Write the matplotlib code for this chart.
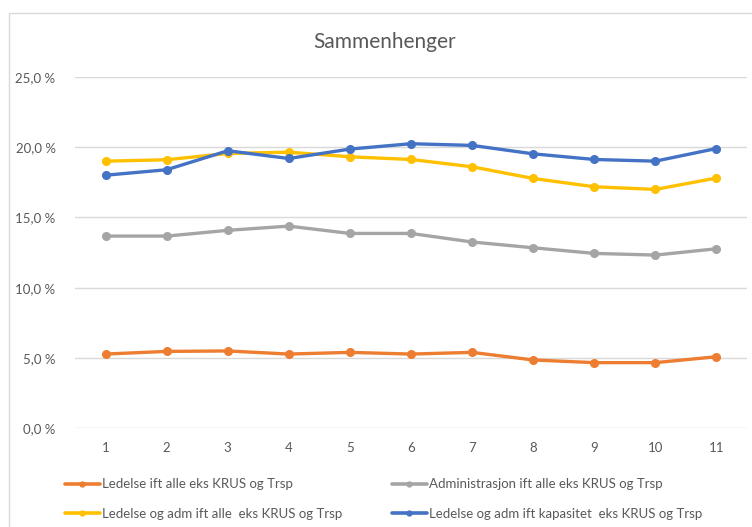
import matplotlib
matplotlib.use("Agg")
import matplotlib.pyplot as plt
from matplotlib.patches import Rectangle
from matplotlib.ticker import FuncFormatter

plt.rcParams['font.family'] = ['Lato', 'DejaVu Sans']

x = [1, 2, 3, 4, 5, 6, 7, 8, 9, 10, 11]
ledelse = [5.28, 5.47, 5.50, 5.28, 5.40, 5.28, 5.40, 4.86, 4.67, 4.67, 5.09]
administrasjon = [13.67, 13.67, 14.08, 14.38, 13.86, 13.86, 13.25, 12.84, 12.44, 12.32, 12.77]
led_adm_alle = [19.00, 19.10, 19.55, 19.64, 19.31, 19.12, 18.60, 17.77, 17.18, 16.99, 17.80]
led_adm_kap = [18.00, 18.39, 19.74, 19.19, 19.86, 20.24, 20.12, 19.52, 19.12, 19.00, 19.90]

labels = ["Ledelse ift alle eks KRUS og Trsp",
          "Administrasjon ift alle eks KRUS og Trsp",
          "Ledelse og adm ift alle  eks KRUS og Trsp",
          "Ledelse og adm ift kapasitet  eks KRUS og Trsp"]
colors = ["#ED7D31", "#A5A5A5", "#FFC000", "#4472C4"]
series = [ledelse, administrasjon, led_adm_alle, led_adm_kap]
yticks = [0, 5, 10, 15, 20, 25]

W, H = 752, 527
fig = plt.figure(figsize=(W/100, H/100), dpi=100)
border = Rectangle((9/W, -0.1), 1.1, 1.1 - 13/H, transform=fig.transFigure,
                   facecolor='white', edgecolor='#D9D9D9', linewidth=1.0, zorder=-10)
fig.patches.append(border)

ax = fig.add_axes([75/W, 1-428.3/H, (747-75)/W, (428.3-76.8)/H])
ax.set_facecolor('none')
handles = []
for vals, c, lab in zip(series, colors, labels):
    h, = ax.plot(x, vals, color=c, linewidth=2.4, marker='o', markersize=5.5,
                 label=lab, solid_capstyle='round')
    handles.append(h)

ax.set_xlim(0.5, 11.5)
ax.set_ylim(0, 25)
ax.set_yticks(yticks)
ax.yaxis.set_major_formatter(FuncFormatter(lambda v, p: f"{v:.1f}".replace('.', ',') + " %"))
ax.set_xticks(x)
ax.grid(axis='y', color='#D9D9D9', linewidth=1.0)
ax.set_axisbelow(True)
for s in ax.spines.values():
    s.set_visible(False)
ax.tick_params(axis='both', length=0, colors='#595959', labelsize=9.5)
ax.tick_params(axis='y', pad=14)
ax.tick_params(axis='x', pad=10)

fig.text(385/W, 1-42/H, "Sammenhenger", ha='center', va='center', fontsize=15, color='#595959')

leg_kw = dict(frameon=False, fontsize=9.5, handlelength=2.6, handletextpad=0.15,
              labelspacing=1.35, labelcolor='#595959', borderaxespad=0)
leg1 = fig.legend([handles[0], handles[2]], [labels[0], labels[2]], loc='upper left',
                  bbox_to_anchor=(60/W, 1-473/H), **leg_kw)
leg2 = fig.legend([handles[1], handles[3]], [labels[1], labels[3]], loc='upper left',
                  bbox_to_anchor=(387/W, 1-473/H), **leg_kw)
for leg in (leg1, leg2):
    for ln in leg.get_lines():
        ln.set_markersize(3.5)
        ln.set_linewidth(2.6)

fig.savefig("out.png", dpi=100)
